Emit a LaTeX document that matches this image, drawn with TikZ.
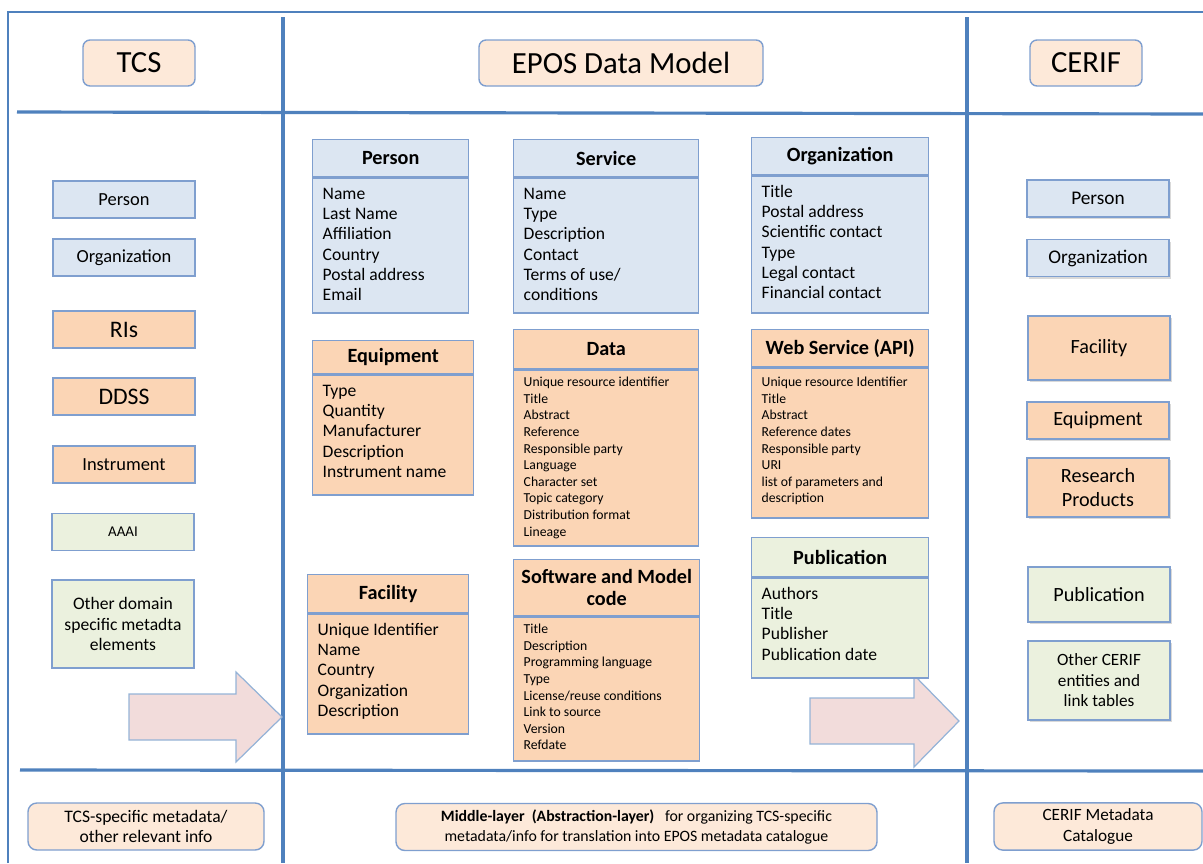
\documentclass[tikz,border=0pt]{standalone}
\usepackage{fontspec}
\setmainfont{Carlito}
\usepackage{tikz}
\usetikzlibrary{positioning,shadows}

\definecolor{frameblue}{HTML}{4F81BD}
\definecolor{edgeblue}{HTML}{7F9FCF}
\definecolor{fillblue}{HTML}{DCE6F2}
\definecolor{fillorange}{HTML}{FBD5B5}
\definecolor{fillpeach}{HTML}{FDE9D9}
\definecolor{fillgreen}{HTML}{EBF1DE}
\definecolor{fillpink}{HTML}{F2DCDB}
\definecolor{arrowedge}{HTML}{95B3D7}

% one pixel of the layout
\newlength\pxl
\setlength\pxl{0.02cm}
% attribute list: width, height, lines
\newcommand\fields[3]{\parbox[t][#2\pxl][t]{#1\pxl}{\raggedright\strut #3}}

\tikzset{
  divider/.style={frameblue, line width=1.8pt},
  title/.style={draw=edgeblue, fill=fillpeach, rounded corners=4pt, line width=0.8pt,
    minimum height=46\pxl, font=\fontsize{17.5}{20}\selectfont},
  tag/.style={draw=edgeblue, line width=0.8pt, minimum width=142\pxl, minimum height=37\pxl,
    align=center, inner sep=1pt, font=\fontsize{10.5}{12.5}\selectfont},
  umlhead/.style={draw=edgeblue, line width=0.8pt, anchor=north west, align=center, inner sep=0pt,
    font=\fontsize{11.5}{12.6}\selectfont\bfseries},
  umlbody/.style={draw=edgeblue, line width=0.8pt, anchor=north, inner xsep=10\pxl, inner ysep=7\pxl,
    font=\fontsize{10}{11.55}\selectfont},
  smallbody/.style={umlbody, inner ysep=5\pxl, font=\fontsize{7.8}{9.45}\selectfont},
  footer/.style={draw=edgeblue, fill=fillpeach, rounded corners=5pt, line width=0.8pt,
    minimum height=47\pxl, align=center},
  bluefill/.style={fill=fillblue},
  orangefill/.style={fill=fillorange},
  greenfill/.style={fill=fillgreen},
  lifted/.style={drop shadow={opacity=0.3, shadow xshift=1.2pt, shadow yshift=-1.2pt}},
  bigarrow/.style={draw=arrowedge, fill=fillpink, line width=0.7pt},
}

\begin{document}
\begin{tikzpicture}[x=0.02cm, y=-0.02cm]
    \useasboundingbox (0,0) rectangle (1203,863);

    % Frame and dividers
    \draw[frameblue, line width=1.2pt] (8,863) -- (8,12) -- (1203,12);
    \draw[divider] (283,17) -- (283,863);
    \draw[divider] (967,17) -- (967,863);
    \draw[divider] (17,112) -- (1203,114);
    \draw[divider] (20,770) -- (1203,771);

    % Column titles
    \node[title, minimum width=112\pxl] (tcs) at (139,63) {TCS};
    \node[title, minimum width=284\pxl] (epos) at (621,63) {EPOS Data Model};
    \node[title, minimum width=112\pxl] (cerif) at (1086,63) {CERIF};

    % Big arrows
    \draw[bigarrow] (129,694) -- (236,694) -- (236,672) -- (282,717) -- (236,762) -- (236,740) -- (129,740) -- cycle;
    \draw[bigarrow] (810,698) -- (914,698) -- (914,675) -- (959,721) -- (914,767) -- (914,744) -- (810,744) -- cycle;

    % Left column (TCS)
    \node[tag, bluefill] (tcsperson) at (124,199.5) {Person};
    \node[tag, bluefill] (tcsorg) at (124,257.5) {Organization};
    \node[tag, orangefill, font=\fontsize{13.5}{15}\selectfont] (ris) at (124,329.5) {RIs};
    \node[tag, orangefill, font=\fontsize{13.5}{15}\selectfont] (ddss) at (124,396.5) {DDSS};
    \node[tag, orangefill] (instrument) at (124,464.5) {Instrument};
    \node[tag, greenfill, font=\fontsize{8.5}{10}\selectfont] (aaai) at (123,532) {AAAI};
    \node[tag, greenfill, minimum height=88\pxl, font=\fontsize{10}{11.6}\selectfont] (otherdomain) at (123,624)
        {Other domain\\specific metadta\\elements};

    % Middle column (EPOS Data Model)
    \node[umlhead, bluefill, minimum width=156\pxl, minimum height=37\pxl] (person) at (312,139) {Person};
    \node[umlbody, bluefill] (personattr) at (person.south)
        {\fields{136}{121}{Name\\Last Name\\Affiliation\\Country\\Postal address\\Email}};

    \node[umlhead, bluefill, minimum width=185\pxl, minimum height=37\pxl] (service) at (513,139) {Service};
    \node[umlbody, bluefill] (serviceattr) at (service.south)
        {\fields{165}{121}{Name\\Type\\Description\\Contact\\Terms of use/\\conditions}};

    \node[umlhead, bluefill, minimum width=177\pxl, minimum height=37\pxl] (organization) at (751,137) {Organization};
    \node[umlbody, bluefill] (organizationattr) at (organization.south)
        {\fields{157}{123}{Title\\Postal address\\Scientific contact\\Type\\Legal contact\\Financial contact}};

    \node[umlhead, orangefill, minimum width=161\pxl, minimum height=33\pxl] (equipment) at (312,340) {Equipment};
    \node[umlbody, orangefill] (equipmentattr) at (equipment.south)
        {\fields{141}{106}{Type\\Quantity\\Manufacturer\\Description\\Instrument name}};

    \node[umlhead, orangefill, minimum width=185\pxl, minimum height=39\pxl] (data) at (513,329) {Data};
    \node[smallbody, orangefill] (dataattr) at (data.south)
        {\fields{165}{166}{Unique resource identifier\\Title\\Abstract\\Reference\\Responsible party\\Language\\Character set\\Topic category\\Distribution format\\Lineage}};

    \node[umlhead, orangefill, minimum width=177\pxl, minimum height=37\pxl] (webservice) at (751,329) {Web Service (API)};
    \node[smallbody, orangefill, inner ysep=7\pxl] (webserviceattr) at (webservice.south)
        {\fields{157}{136}{Unique resource Identifier\\Title\\Abstract\\Reference dates\\Responsible party\\URI\\list of parameters and\\description}};

    \node[umlhead, orangefill, minimum width=161\pxl, minimum height=38\pxl] (facility) at (307,574) {Facility};
    \node[umlbody, orangefill] (facilityattr) at (facility.south)
        {\fields{141}{106}{Unique Identifier\\Name\\Country\\Organization\\Description}};

    \node[umlhead, orangefill, minimum width=186\pxl, minimum height=56\pxl] (software) at (513,559) {Software and Model\\code};
    \node[smallbody, orangefill] (softwareattr) at (software.south)
        {\fields{166}{134}{Title\\Description\\Programming language\\Type\\License/reuse conditions\\Link to source\\Version\\Refdate}};

    \node[umlhead, greenfill, minimum width=177\pxl, minimum height=39\pxl] (publication) at (751,537) {Publication};
    \node[umlbody, greenfill] (publicationattr) at (publication.south)
        {\fields{157}{86}{Authors\\Title\\Publisher\\Publication date}};

    % Right column (CERIF)
    \node[tag, bluefill, lifted, font=\fontsize{11}{13}\selectfont] (cerifperson) at (1098,198.5) {Person};
    \node[tag, bluefill, lifted, font=\fontsize{11}{13}\selectfont] (ceriforg) at (1098,258) {Organization};
    \node[tag, orangefill, lifted, minimum height=64\pxl, font=\fontsize{11.5}{13.2}\selectfont] (ceriffacility) at (1099,348) {Facility};
    \node[tag, orangefill, lifted, font=\fontsize{11.5}{13.2}\selectfont] (cerifequipment) at (1098,420.5) {Equipment};
    \node[tag, orangefill, lifted, minimum height=59\pxl, font=\fontsize{11.5}{13.2}\selectfont] (products) at (1098,487.5) {Research\\Products};
    \node[tag, greenfill, lifted, minimum height=55\pxl, font=\fontsize{11.5}{13.2}\selectfont] (cerifpublication) at (1099,594.5) {Publication};
    \node[tag, greenfill, lifted, minimum height=79\pxl, font=\fontsize{9.8}{11.7}\selectfont] (othercerif) at (1099,680.5)
        {Other CERIF\\entities and\\link tables};

    % Bottom row
    \node[footer, minimum width=236\pxl, font=\fontsize{10}{11.8}\selectfont] (tcsmeta) at (146,826.5)
        {TCS-specific metadata/\\other relevant info};
    \node[footer, minimum width=481\pxl, font=\fontsize{9}{11.3}\selectfont] (middlelayer) at (636.5,827)
        {\textbf{Middle-layer\ \ (Abstraction-layer)}\ \ \ for organizing TCS-specific\\metadata/info for translation into EPOS metadata catalogue};
    \node[footer, minimum width=208\pxl, font=\fontsize{9.8}{11.7}\selectfont] (cerifmeta) at (1098,826.5)
        {CERIF Metadata\\Catalogue};
\end{tikzpicture}
\end{document}
